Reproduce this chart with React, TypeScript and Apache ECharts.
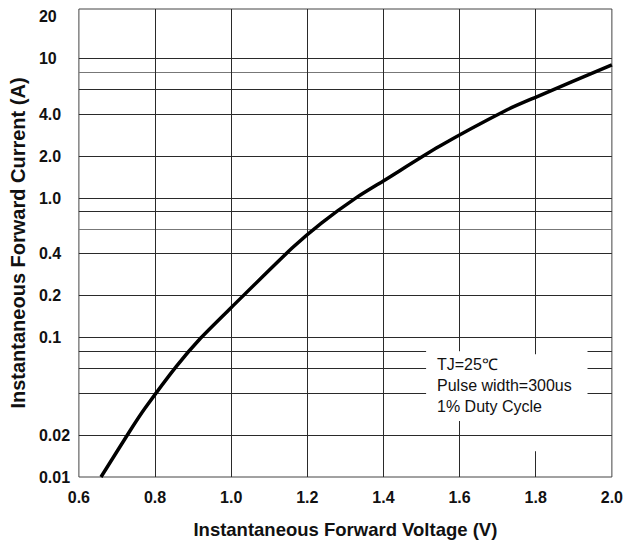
import React, { useEffect, useRef } from "react";
import * as echarts from "echarts";

// Curve
const voltage = [0.658, 0.736, 0.774, 0.856, 0.92, 1.001, 1.16, 1.237, 1.327, 1.404, 1.546, 1.725, 1.804, 2.0];
const current = [0.01, 0.0218, 0.0312, 0.0621, 0.0992, 0.165, 0.438, 0.662, 1.0, 1.35, 2.344, 4.3, 5.35, 9.03];

// Axis ticks
const yLabelValues = [0.01, 0.02, 0.1, 0.2, 0.4, 1, 2, 4, 10, 20];
const yLabelTexts = ["0.01", "0.02", "0.1", "0.2", "0.4", "1.0", "2.0", "4.0", "10", "20"];
const yGridFull = [10, 8, 6, 4, 2, 1, 0.8, 0.6, 0.4, 0.2, 0.1, 0.02];
const yGridBroken = [0.08, 0.06, 0.04];
const xGridFull = [0.8, 1.0, 1.2, 1.4];
const xGridBroken = [1.6, 1.8];
const grayLines = [8, 0.6];

const noteLines = ["TJ=25\u2103", "Pulse width=300us", "1% Duty Cycle"];

const X_MIN = 0.6;
const X_MAX = 2.0;
const Y_MIN = 0.01;
const Y_MAX = 22.7;

// gap in the grid behind the note text
const gapX: [number, number] = [1.512, 1.936];
const gapY: Record<string, [number, number]> = { "1.6": [0.0252, 0.0798], "1.8": [0.0153, 0.0759] };

export default function App() {
  const ref = useRef<HTMLDivElement>(null);
  useEffect(() => {
    if (!ref.current) return;
    const chart = echarts.init(ref.current, null, { renderer: "svg" });
    const font = "'Liberation Sans', Arial, sans-serif";
    const line = (v: number) => ({ color: grayLines.includes(v) ? "#777" : "#2a2a2a", width: 1, type: "solid" });

    const gridData: any[] = [];
    yGridFull.forEach((v) => gridData.push({ yAxis: v, lineStyle: line(v) }));
    yGridBroken.forEach((v) => {
      gridData.push([{ coord: [X_MIN, v], lineStyle: line(v) }, { coord: [gapX[0], v] }]);
      gridData.push([{ coord: [gapX[1], v], lineStyle: line(v) }, { coord: [X_MAX, v] }]);
    });
    xGridFull.forEach((v) => gridData.push({ xAxis: v, lineStyle: line(v) }));
    xGridBroken.forEach((v) => {
      const g = gapY[v.toFixed(1)];
      gridData.push([{ coord: [v, Y_MIN], lineStyle: line(v) }, { coord: [v, g[0]] }]);
      gridData.push([{ coord: [v, g[1]], lineStyle: line(v) }, { coord: [v, Y_MAX] }]);
    });

    chart.setOption({
      animation: false,
      backgroundColor: "#fff",
      grid: { left: 72, right: 9, top: 9, bottom: 68, show: true, borderColor: "#444", borderWidth: 1 },
      xAxis: {
        type: "value",
        min: X_MIN,
        max: X_MAX,
        interval: 0.2,
        name: "Instantaneous Forward Voltage (V)",
        nameLocation: "middle",
        nameGap: 43,
        nameTextStyle: { fontFamily: font, fontWeight: "bold", fontSize: 18.5, color: "#111" },
        axisLine: { show: false },
        axisTick: { show: false },
        splitLine: { show: false },
        axisLabel: {
          margin: 12,
          fontFamily: font,
          fontWeight: "bold",
          fontSize: 16,
          color: "#111",
          formatter: (v: number) => v.toFixed(1),
        },
      },
      yAxis: {
        type: "log",
        logBase: 10,
        min: Y_MIN,
        max: Y_MAX,
        name: "Instantaneous Forward Current (A)",
        nameLocation: "middle",
        nameGap: 46,
        nameTextStyle: { fontFamily: font, fontWeight: "bold", fontSize: 20, color: "#111" },
        axisLine: { show: false },
        axisTick: { show: false },
        splitLine: { show: false },
        minorSplitLine: { show: false },
        axisLabel: {
          customValues: yLabelValues,
          align: "left",
          margin: 40,
          fontFamily: font,
          fontWeight: "bold",
          fontSize: 16,
          color: "#111",
          formatter: (v: number) => {
            let best = 0;
            yLabelValues.forEach((t, i) => {
              if (Math.abs(Math.log10(t) - Math.log10(v)) < Math.abs(Math.log10(yLabelValues[best]) - Math.log10(v))) best = i;
            });
            return yLabelTexts[best];
          },
        },
      },
      series: [
        {
          type: "line",
          z: 1,
          data: [[X_MIN, Y_MIN]],
          showSymbol: false,
          symbol: "none",
          lineStyle: { width: 0 },
          silent: true,
          markLine: {
            silent: true,
            symbol: ["none", "none"],
            label: { show: false },
            emphasis: { disabled: true },
            data: gridData,
          },
        },
        {
          type: "line",
          z: 5,
          data: voltage.map((v, i) => [v, current[i]]),
          showSymbol: false,
          symbol: "none",
          smooth: 0.25,
          lineStyle: { color: "#000", width: 3.5 },
        },
      ],
      graphic: noteLines.map((t, i) => ({
        type: "text",
        x: 437,
        y: 364 + i * 21,
        silent: true,
        style: { text: t, font: `16px ${font}`, fill: "#111", verticalAlign: "middle", align: "left" },
      })),
    });
    return () => chart.dispose();
  }, []);
  return <div ref={ref} style={{ position: "fixed", left: 0, top: 0, width: 626, height: 545 }} />;
}
